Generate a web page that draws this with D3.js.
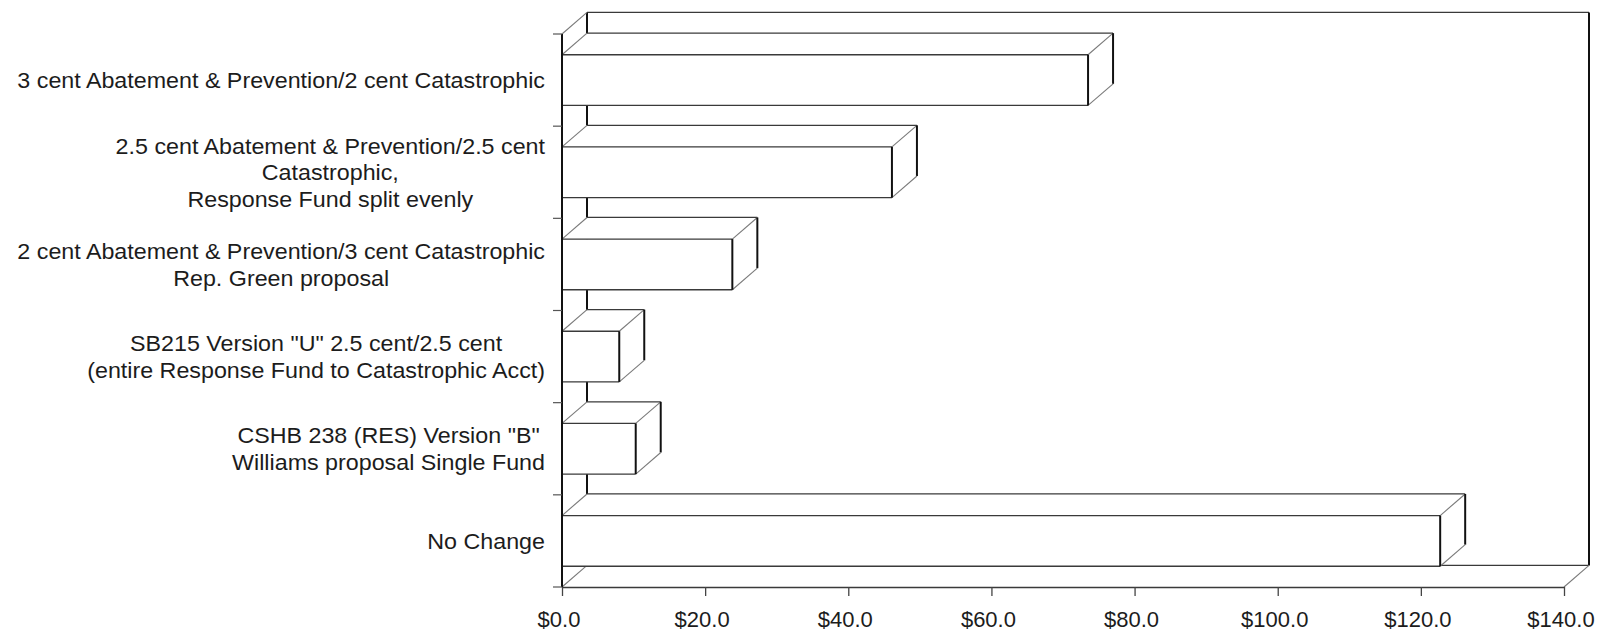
<!DOCTYPE html>
<html>
<head>
<meta charset="utf-8">
<script src="https://cdn.jsdelivr.net/npm/d3@7"></script>
<style>
  html, body { margin: 0; padding: 0; background: #fff; }
  svg { display: block; }
  text { font-family: "Liberation Sans", Arial, sans-serif; fill: #1c1c1c; }
</style>
</head>
<body>
<svg id="chart" width="1600" height="635"></svg>
<script>
// Category labels (line breaks marked with \n), top to bottom
const categories = [
  "3 cent Abatement & Prevention/2 cent Catastrophic",
  "2.5 cent Abatement & Prevention/2.5 cent\nCatastrophic,\nResponse Fund split evenly",
  "2 cent Abatement & Prevention/3 cent Catastrophic\nRep. Green proposal",
  "SB215 Version \"U\" 2.5 cent/2.5 cent\n(entire Response Fund to Catastrophic Acct)",
  "CSHB 238 (RES) Version \"B\"\nWilliams proposal Single Fund",
  "No Change"
];
// Amounts ($) for each option
const values = [73.5, 46.1, 23.8, 8.0, 10.3, 122.7];
// Value axis ticks
const xTickValues = [0, 20, 40, 60, 80, 100, 120, 140];
const xDomain = [0, 140];

const svg = d3.select("#chart");

// Layout of the 3-D box
const plotLeft = 562, plotRight = 1564, plotTop = 34, plotBottom = 587;
const depthX = 25, depthY = -21.6;

const x = d3.scaleLinear().domain(xDomain).range([plotLeft, plotRight]);
const y = d3.scaleBand().domain(categories).range([plotTop, plotBottom])
  .paddingInner(0.45).paddingOuter(0.225);

const H = { stroke: "#3a3a3a", "stroke-width": 1.3 };   // horizontal edges
const V = { stroke: "#111", "stroke-width": 2 };        // vertical edges
const D = { stroke: "#7a7a7a", "stroke-width": 1.1 };   // receding edges

function edge(g, x1, y1, x2, y2, style) {
  const l = g.append("line").attr("x1", x1).attr("y1", y1).attr("x2", x2).attr("y2", y2)
    .attr("fill", "none");
  Object.entries(style).forEach(([k, v]) => l.attr(k, v));
  return l;
}

// Back wall and floor
const walls = svg.append("g");
const bx0 = x(xDomain[0]) + depthX, bx1 = x(xDomain[1]) + depthX;
const byTop = plotTop + depthY, byBot = plotBottom + depthY;
edge(walls, bx0, byTop, bx1, byTop, H);
edge(walls, bx1, byTop, bx1, byBot, V);
edge(walls, bx0, byTop, bx0, byBot, V);
edge(walls, bx0, byBot, bx1, byBot, H);
edge(walls, x(xDomain[0]), plotTop, bx0, byTop, D);
edge(walls, x(xDomain[0]), plotBottom, bx0, byBot, D);
edge(walls, x(xDomain[1]), plotBottom, bx1, byBot, D);

// Bars as white boxes
const bars = svg.append("g");
categories.forEach((c, i) => {
  const g = bars.append("g");
  const x0 = x(0), xv = x(values[i]);
  const yt = y(c), yb = y(c) + y.bandwidth();
  // faces
  g.append("polygon")
    .attr("points", [[x0, yt], [xv, yt], [xv + depthX, yt + depthY], [x0 + depthX, yt + depthY]].join(" "))
    .attr("fill", "#fff");
  g.append("polygon")
    .attr("points", [[xv, yt], [xv + depthX, yt + depthY], [xv + depthX, yb + depthY], [xv, yb]].join(" "))
    .attr("fill", "#fff");
  g.append("rect").attr("x", x0).attr("y", yt).attr("width", xv - x0).attr("height", yb - yt)
    .attr("fill", "#fff");
  // edges
  edge(g, x0 + depthX, yt + depthY, xv + depthX, yt + depthY, H);
  edge(g, x0, yt, x0 + depthX, yt + depthY, D);
  edge(g, xv, yt, xv + depthX, yt + depthY, D);
  edge(g, xv + depthX, yt + depthY, xv + depthX, yb + depthY, V);
  edge(g, xv, yb, xv + depthX, yb + depthY, D);
  edge(g, x0, yt, xv, yt, H);
  edge(g, x0, yb, xv, yb, H);
  edge(g, xv, yt, xv, yb, V);
});

// Category axis: front line with ticks at band boundaries
const catAxis = svg.append("g");
edge(catAxis, plotLeft, plotTop, plotLeft, plotBottom, V);
const gap = (y.step() - y.bandwidth()) / 2;
const boundaries = categories.map(c => y(c) - gap).concat([y(categories[categories.length - 1]) + y.bandwidth() + gap]);
boundaries.forEach(b => edge(catAxis, plotLeft - 9, b, plotLeft, b, { stroke: "#555", "stroke-width": 1.2 }));

// Category labels: centred lines, block right-aligned to the axis
// (the face is set slightly wide, as in the printed chart)
const fontSize = 22.5, stretch = 1.035, lineH = 26.5, labelRight = 545;
categories.forEach(c => {
  const lines = c.split("\n");
  const cy = y(c) + y.bandwidth() / 2;
  const g = svg.append("g").attr("transform", `translate(${labelRight},0) scale(${stretch},1)`);
  const texts = lines.map((ln, j) => g.append("text")
    .attr("font-size", fontSize)
    .attr("text-anchor", "middle")
    .attr("y", cy + (j - (lines.length - 1) / 2) * lineH + 8)
    .text(ln));
  const maxW = d3.max(texts, t => t.node().getComputedTextLength());
  texts.forEach(t => t.attr("x", -maxW / 2));
});

// Value axis along the front of the floor
const xAxis = d3.axisBottom(x)
  .tickValues(xTickValues)
  .tickSize(9)
  .tickSizeOuter(0)
  .tickFormat(d => "$" + d.toFixed(1));
const ax = svg.append("g").attr("transform", `translate(0,${plotBottom})`).call(xAxis);
ax.select(".domain").attr("stroke", "#3a3a3a").attr("stroke-width", 1.3);
ax.selectAll(".tick line").attr("stroke", "#444").attr("stroke-width", 1.3);
ax.selectAll(".tick text")
  .attr("font-size", 22)
  .attr("font-family", "Liberation Sans, Arial, sans-serif")
  .attr("fill", "#1c1c1c")
  .attr("y", 40).attr("dy", null).attr("dx", -3.5);
</script>
</body>
</html>
